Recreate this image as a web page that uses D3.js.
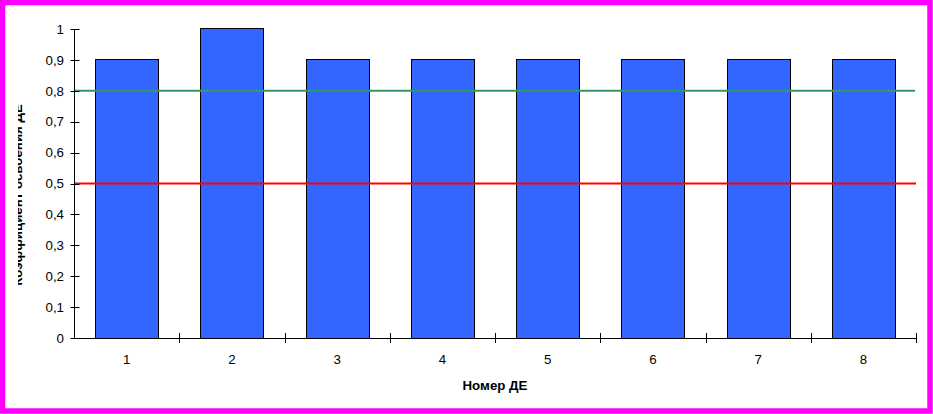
<!DOCTYPE html>
<html>
<head>
<meta charset="utf-8">
<script src="https://cdn.jsdelivr.net/npm/d3@7"></script>
<style>
html,body{margin:0;padding:0;background:#fff;}
svg{display:block;}
text{font-family:"Liberation Sans",Arial,sans-serif;}
</style>
</head>
<body>
<svg id="chart" width="933" height="414"></svg>
<script>
const categories = ["1","2","3","4","5","6","7","8"];
const values = [0.9, 1, 0.9, 0.9, 0.9, 0.9, 0.9, 0.9];
const yTicks = [0,0.1,0.2,0.3,0.4,0.5,0.6,0.7,0.8,0.9,1];
const thresholdHigh = 0.8;
const thresholdLow = 0.5;
const xTitle = "Номер ДЕ";
const yTitle = "Коэффициент освоения ДЕ";

(function(){
const svg = d3.select("#chart");
const W = 933, H = 414;

// border
svg.append("rect").attr("x",2.5).attr("y",2.5).attr("width",W-5.5).attr("height",H-5.5)
  .attr("fill","#fff").attr("stroke","#FF00FF").attr("stroke-width",5.5);

const pL = 74, pR = 916, pT = 29, pB = 338;
const x = d3.scaleBand().domain(categories).range([pL, pR]).paddingInner(0.4).paddingOuter(0.2);
const xb = d3.scaleLinear().domain([0, categories.length]).range([pL, pR]);
const y = d3.scaleLinear().domain([0,1]).range([pB, pT]);

// bars
svg.append("g").selectAll("rect").data(values).join("rect")
  .attr("x",(d,i)=>Math.round(x(categories[i]))+0.5)
  .attr("y",d=>Math.round(y(d))-0.5)
  .attr("width",Math.round(x.bandwidth()))
  .attr("height",d=>Math.round(y(0))-Math.round(y(d))+1)
  .attr("fill","#3366FF").attr("stroke","#000").attr("stroke-width",1);

// threshold lines
svg.append("line").attr("x1",pL+1).attr("x2",pR-1)
  .attr("y1",y(thresholdHigh)).attr("y2",y(thresholdHigh))
  .attr("stroke","#339966").attr("stroke-width",2);
svg.append("line").attr("x1",pL+1).attr("x2",pR)
  .attr("y1",y(thresholdLow)).attr("y2",y(thresholdLow))
  .attr("stroke","#FF0000").attr("stroke-width",2);

// y axis
const yAxis = svg.append("g").attr("transform",`translate(${pL+0.5},0)`);
yAxis.append("line").attr("x1",0).attr("x2",0).attr("y1",y(1)).attr("y2",y(0)).attr("stroke","#000");
yAxis.selectAll("line.t").data(yTicks).join("line").attr("class","t")
  .attr("x1",-4).attr("x2",5).attr("y1",d=>Math.round(y(d))+0.5).attr("y2",d=>Math.round(y(d))+0.5).attr("stroke","#000");
yAxis.selectAll("text").data(yTicks).join("text")
  .attr("x",-10.5).attr("y",d=>y(d)).attr("dy","0.36em")
  .attr("text-anchor","end").attr("font-size","13.3px").attr("fill","#000")
  .text(d=>String(d).replace(".",","));

// x axis
const xAxis = svg.append("g");
xAxis.append("line").attr("x1",pL).attr("x2",pR+0.5).attr("y1",pB+0.5).attr("y2",pB+0.5).attr("stroke","#000");
xAxis.selectAll("line.t").data(d3.range(1, categories.length+1)).join("line").attr("class","t")
  .attr("x1",d=>Math.round(xb(d))+0.5).attr("x2",d=>Math.round(xb(d))+0.5)
  .attr("y1",pB-5).attr("y2",pB+5).attr("stroke","#000");
xAxis.selectAll("text").data(categories).join("text")
  .attr("x",d=>x(d)+x.bandwidth()/2).attr("y",pB+21)
  .attr("dy","0.36em").attr("text-anchor","middle").attr("font-size","13.3px").attr("fill","#000")
  .text(d=>d);

svg.append("text").attr("x",(pL+pR)/2).attr("y",385).attr("dy","0.36em")
  .attr("text-anchor","middle").attr("font-size","13.3px").attr("font-weight","bold").attr("fill","#000")
  .text(xTitle);

// y title (partially clipped, as in reference)
svg.append("clipPath").attr("id","yclip").append("rect").attr("x",18).attr("y",0).attr("width",20).attr("height",H);
svg.append("g").attr("clip-path","url(#yclip)")
  .append("text").attr("transform","translate(22,195) rotate(-90)")
  .attr("text-anchor","middle").attr("font-size","13.3px").attr("font-weight","bold").attr("fill","#000")
  .text(yTitle);
})();
</script>
</body>
</html>
